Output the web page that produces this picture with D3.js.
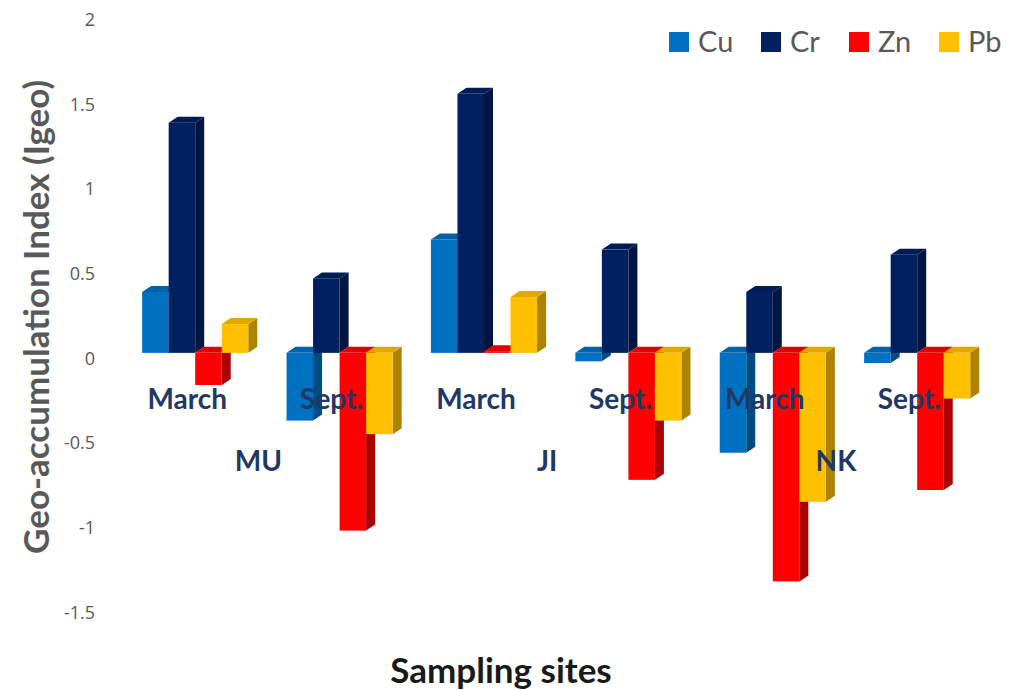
<!DOCTYPE html>
<html>
<head>
<meta charset="utf-8">
<script src="https://cdn.jsdelivr.net/npm/d3@7"></script>
<style>
  html, body { margin: 0; padding: 0; background: #fff; }
  svg { display: block; }
  text { font-family: Lato, "Open Sans", sans-serif; }
</style>
</head>
<body>
<div id="chart"></div>
<script>
// ---------------------------------------------------------------------------
// Data

const seasons = ['March', 'Sept.', 'March', 'Sept.', 'March', 'Sept.'];
const sites = ['MU', 'JI', 'NK'];
const metals = ['Cu', 'Cr', 'Zn', 'Pb'];

const cu = [0.36, -0.40, 0.67, -0.05, -0.59, -0.06];
const cr = [1.36, 0.44, 1.53, 0.61, 0.36, 0.58];
const zn = [-0.19, -1.05, 0.01, -0.75, -1.35, -0.81];
const pb = [0.17, -0.48, 0.33, -0.40, -0.88, -0.27];

const yTicks = [2, 1.5, 1, 0.5, 0, -0.5, -1, -1.5];

// ---------------------------------------------------------------------------
// Layout

const width = 1014;
const height = 690;
const colors = ['#0070C0', '#002060', '#FF0000', '#FFC000'];
const series = [cu, cr, zn, pb];

// fake 3d depth of the bars
const depthX = 9;
const depthY = -6;

let svg = d3.select('#chart')
  .append('svg')
  .attr('width', width)
  .attr('height', height);

let x = d3.scaleBand()
  .domain(d3.range(seasons.length))
  .range([123, 989.4])
  .paddingInner(0.265)
  .paddingOuter(0.1325);

let xInner = d3.scaleBand()
  .domain(metals)
  .range([0, x.bandwidth()]);

let y = d3.scaleLinear()
  .domain([-1.5, 2])
  .range([606.8, 14.3]);

// y axis, labels only (no line, no ticks)
let yAxis = svg.append('g')
  .attr('transform', 'translate(95,5.5)')
  .call(d3.axisLeft(y).tickValues(yTicks).tickSize(0).tickPadding(0)
    .tickFormat(d => String(d)));
yAxis.select('.domain').remove();
yAxis.selectAll('text')
  .attr('fill', '#595959')
  .style('font-family', '"Open Sans", sans-serif')
  .style('font-size', '18px');

// ---------------------------------------------------------------------------
// Bars

let bars = [];
seasons.forEach((s, i) => {
  metals.forEach((m, j) => {
    bars.push({ i: i, metal: m, value: series[j][i], color: colors[j] });
  });
});

let g = svg.append('g').attr('class', 'bars');

bars.forEach(d => {
  let x0 = x(d.i) + xInner(d.metal);
  let w = xInner.bandwidth();
  let top = y(Math.max(d.value, 0));
  let bot = y(Math.min(d.value, 0));
  let c = d3.color(d.color);
  let bar = g.append('g').attr('class', 'bar');

  // right side
  bar.append('polygon')
    .attr('points', [
      [x0 + w, top], [x0 + w + depthX, top + depthY],
      [x0 + w + depthX, bot + depthY], [x0 + w, bot]
    ].join(' '))
    .attr('fill', c.darker(1.1));

  // top
  bar.append('polygon')
    .attr('points', [
      [x0, top], [x0 + depthX, top + depthY],
      [x0 + w + depthX, top + depthY], [x0 + w, top]
    ].join(' '))
    .attr('fill', c.darker(0.35));

  // front
  bar.append('rect')
    .attr('x', x0)
    .attr('y', top)
    .attr('width', w)
    .attr('height', Math.max(bot - top, 0.5))
    .attr('fill', d.color);
});

// ---------------------------------------------------------------------------
// Category labels

svg.append('g').selectAll('text')
  .data(seasons)
  .enter()
  .append('text')
  .attr('x', (d, i) => x(i) + x.bandwidth() / 2 - 8)
  .attr('y', 409)
  .attr('text-anchor', 'middle')
  .attr('fill', '#1F3864')
  .style('font-size', '28px')
  .style('font-weight', 'bold')
  .text(d => d);

svg.append('g').selectAll('text')
  .data(sites)
  .enter()
  .append('text')
  .attr('x', (d, i) => x(i * 2) + x.step() / 2 + x.bandwidth() / 2 - 9)
  .attr('y', 471)
  .attr('text-anchor', 'middle')
  .attr('fill', '#1F3864')
  .style('font-size', '28px')
  .style('font-weight', 'bold')
  .text(d => d);

// ---------------------------------------------------------------------------
// Axis titles

svg.append('text')
  .attr('transform', 'translate(49,317) rotate(-90)')
  .attr('text-anchor', 'middle')
  .attr('fill', '#595959')
  .style('font-size', '35px')
  .style('font-weight', 'bold')
  .text('Geo-accumulation Index (Igeo)');

svg.append('text')
  .attr('x', 501)
  .attr('y', 683)
  .attr('text-anchor', 'middle')
  .attr('fill', '#1a1a1a')
  .style('font-size', '35px')
  .style('font-weight', 'bold')
  .text('Sampling sites');

// ---------------------------------------------------------------------------
// Legend

const legendX = [669, 761, 849, 939];
let legend = svg.append('g').selectAll('g')
  .data(metals)
  .enter()
  .append('g')
  .attr('transform', (d, i) => `translate(${legendX[i]},32)`);
legend.append('rect')
  .attr('width', 20)
  .attr('height', 20)
  .attr('fill', (d, i) => colors[i]);
legend.append('text')
  .attr('x', 29)
  .attr('y', 20)
  .attr('fill', '#595959')
  .style('font-size', '29px')
  .text(d => d);
</script>
</body>
</html>
